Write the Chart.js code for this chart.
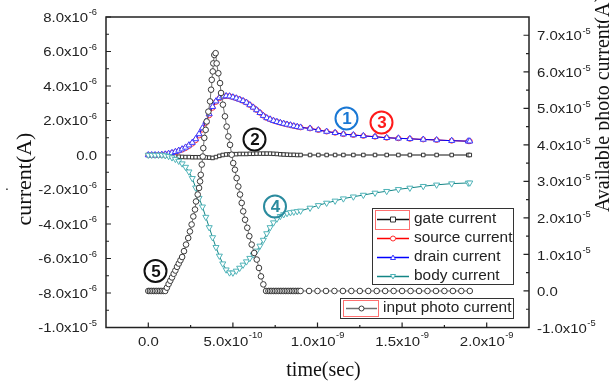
<!DOCTYPE html>
<html>
<head>
<meta charset="UTF-8">
<title>Photo current transient</title>
<style>
    body { margin: 0; background: #fff; overflow: hidden; }
    #chartBox { width: 609px; height: 383px; position: relative; }
</style>
<script src="https://cdn.jsdelivr.net/npm/chart.js"></script>
</head>
<body>
<div id="chartBox"><canvas id="photoChart"></canvas></div>

<script>
// time in units of 1e-10 s, device currents in 1e-6 A, photo current in 1e-5 A
const deviceTime = [0,0.2,0.4,0.6,0.8,1.0,1.2,1.4,1.6,1.8,2.0,2.2,2.4,2.6,2.8,3.0,3.2,3.4,3.6,3.8,
    4.0,4.2,4.4,4.6,4.8,5.0,5.2,5.4,5.6,5.8,6.0,6.2,6.4,6.6,6.8,7.0,7.2,7.4,7.6,7.8,
    8.0,8.2,8.4,8.6,8.8,9.0,9.56,10.05,10.54,11.04,11.53,12.12,12.71,13.4,14.09,14.78,
    15.46,16.25,17.04,17.93,18.91,19.0];

const gateCurrent = [0,0,0,0,0,-0.01,-0.03,-0.06,-0.08,-0.1,-0.11,-0.12,-0.12,-0.13,-0.13,
    -0.13,-0.13,-0.14,-0.15,-0.17,-0.12,-0.05,0,0.03,0.04,0.05,0.05,0.06,0.06,0.06,
    0.07,0.07,0.08,0.08,0.08,0.08,0.08,0.07,0.06,0.04,0.03,0.02,0.01,0.01,0,0,
    0,0,0,0,0,0,0,0,0,0,0,0,0,0,0,0];

const sourceCurrent = [0,0,0,0,0.02,0.04,0.07,0.12,0.17,0.24,0.31,0.4,0.52,0.66,0.86,
    1.13,1.47,1.86,2.3,2.74,3.08,3.29,3.39,3.42,3.41,3.35,3.29,3.22,3.14,3.04,
    2.9,2.76,2.61,2.45,2.28,2.15,2.07,1.99,1.93,1.87,1.82,1.77,1.73,1.68,1.64,1.6,
    1.54,1.45,1.36,1.29,1.21,1.16,1.11,1.06,1.0,0.97,0.94,0.9,0.87,0.83,0.8,0.8];

const drainCurrent = [0,0,0,0,0.02,0.04,0.08,0.13,0.19,0.26,0.34,0.44,0.57,0.72,0.93,
    1.22,1.56,1.93,2.38,2.8,3.12,3.31,3.4,3.42,3.41,3.35,3.29,3.22,3.14,3.04,
    2.9,2.76,2.61,2.45,2.28,2.15,2.07,1.99,1.93,1.87,1.82,1.77,1.73,1.68,1.64,1.6,
    1.54,1.45,1.36,1.29,1.21,1.16,1.11,1.06,1.0,0.97,0.94,0.9,0.87,0.83,0.8,0.8];

const bodyCurrent = [0,0,0,0,0,-0.03,-0.07,-0.15,-0.24,-0.35,-0.5,-0.7,-0.97,-1.35,-1.9,
    -2.5,-3.0,-3.6,-4.2,-4.78,-5.35,-5.85,-6.3,-6.65,-6.82,-6.83,-6.72,-6.55,-6.37,-6.18,
    -5.98,-5.78,-5.56,-5.27,-4.93,-4.55,-4.2,-3.92,-3.7,-3.55,-3.45,-3.38,-3.33,-3.3,-3.27,-3.24,
    -3.07,-2.92,-2.78,-2.66,-2.53,-2.42,-2.32,-2.2,-2.1,-1.99,-1.91,-1.81,-1.73,-1.66,-1.62,-1.61];

const photoTime = [0,0.1,0.2,0.3,0.4,0.5,0.6,0.7,0.8,0.9,1.0,1.1,1.2,1.3,1.4,1.5,1.6,1.7,1.8,1.9,2.0,
    2.11,2.23,2.36,2.46,2.56,2.66,2.76,2.82,2.92,3.0,3.06,3.1,3.16,3.22,3.25,3.31,3.39,3.45,
    3.55,3.65,3.71,3.75,3.81,3.84,3.9,3.98,
    4.04,4.14,4.24,4.3,4.41,4.53,4.63,4.73,4.83,4.93,5.02,5.12,5.22,5.32,5.42,5.52,5.61,5.72,
    5.85,5.97,6.11,6.26,6.41,6.54,6.66,6.8,6.96,
    7.1,7.2,7.3,7.4,7.5,7.6,7.7,7.8,7.9,8.0,8.1,8.2,8.3,8.4,8.5,8.6,8.7,8.8,8.9,9.0,
    9.5,10,10.5,11,11.5,12,12.5,13,13.5,14,14.5,15,15.5,16,16.5,17,17.5,18,18.5,19];

const photoCurrent = [0,0,0,0,0,0,0,0,0,0,0,0.09,0.19,0.28,0.37,0.47,0.56,0.66,0.75,0.84,0.93,
    1.09,1.27,1.45,1.63,1.82,2.04,2.23,2.45,2.64,2.82,3.0,3.18,3.46,3.68,3.91,4.19,4.41,4.64,
    4.91,5.19,5.51,5.78,6.01,6.23,6.46,6.51,
    6.23,5.96,5.69,5.42,5.1,4.78,4.5,4.23,4.0,3.73,3.5,3.32,3.09,2.86,2.64,2.41,2.18,1.95,
    1.73,1.5,1.27,1.04,0.86,0.63,0.4,0.18,0,
    0,0,0,0,0,0,0,0,0,0,0,0,0,0,0,0,0,0,0,0,
    0,0,0,0,0,0,0,0,0,0,0,0,0,0,0,0,0,0,0,0];

// tick labels
const xTicks = [0, 5, 10, 15, 20];
const xTickText = ['0.0', '5.0x10', '1.0x10', '1.5x10', '2.0x10'];
const xTickExp = ['', '-10', '-9', '-9', '-9'];

const yLeftTicks = [8, 6, 4, 2, 0, -2, -4, -6, -8, -10];
const yLeftText = ['8.0x10', '6.0x10', '4.0x10', '2.0x10', '0.0', '-2.0x10', '-4.0x10', '-6.0x10', '-8.0x10', '-1.0x10'];
const yLeftExp = ['-6', '-6', '-6', '-6', '', '-6', '-6', '-6', '-6', '-5'];

const yRightTicks = [7, 6, 5, 4, 3, 2, 1, 0, -1];
const yRightText = ['7.0x10', '6.0x10', '5.0x10', '4.0x10', '3.0x10', '2.0x10', '1.0x10', '0.0', '-1.0x10'];
const yRightExp = ['-5', '-5', '-5', '-5', '-5', '-5', '-5', '', '-5'];

const seriesNames = ['gate current', 'source current', 'drain current', 'body current'];
const photoName = 'input photo current';

const SANS = '"Liberation Sans", Arial, sans-serif';
const SERIF = '"Liberation Serif", "Times New Roman", serif';

function pts(xs, ys) {
    return xs.map((x, i) => ({ x: x, y: ys[i] }));
}

function drawText(ctx, s, x, y, size, family, align, sx, weight) {
    ctx.save();
    ctx.font = (weight || 'normal') + ' ' + size + 'px ' + family;
    ctx.textBaseline = 'middle';
    ctx.textAlign = 'left';
    const w = ctx.measureText(s).width * sx;
    let x0 = x;
    if (align === 'right') x0 = x - w;
    if (align === 'center') x0 = x - w / 2;
    ctx.translate(x0, y);
    ctx.scale(sx, 1);
    ctx.fillText(s, 0, 0);
    ctx.restore();
    return w;
}

function textWidth(ctx, s, size, sx) {
    ctx.save();
    ctx.font = size + 'px ' + SANS;
    const w = ctx.measureText(s).width * sx;
    ctx.restore();
    return w;
}

// mantissa plus raised exponent
function sciLabel(ctx, mant, exp, x, y, align, supRise) {
    const wm = textWidth(ctx, mant, 13, 1.15);
    const we = exp ? textWidth(ctx, exp, 8.5, 1.1) + 0.5 : 0;
    const total = wm + we;
    let x0 = x;
    if (align === 'right') x0 = x - total;
    if (align === 'center') x0 = x - total / 2;
    drawText(ctx, mant, x0, y, 13, SANS, 'left', 1.15);
    if (exp) drawText(ctx, exp, x0 + wm + 0.5, y - supRise, 8.5, SANS, 'left', 1.1);
}

function marker(ctx, style, x, y, r, color) {
    ctx.save();
    ctx.strokeStyle = color;
    ctx.fillStyle = '#fff';
    ctx.lineWidth = 1;
    ctx.beginPath();
    if (style === 'rect') {
        ctx.rect(x - r, y - r, 2 * r, 2 * r);
    } else if (style === 'circle') {
        ctx.arc(x, y, r, 0, Math.PI * 2);
    } else if (style === 'up') {
        ctx.moveTo(x, y - r); ctx.lineTo(x + r, y + r * 0.8); ctx.lineTo(x - r, y + r * 0.8); ctx.closePath();
    } else {
        ctx.moveTo(x, y + r); ctx.lineTo(x + r, y - r * 0.8); ctx.lineTo(x - r, y - r * 0.8); ctx.closePath();
    }
    ctx.fill();
    ctx.stroke();
    ctx.restore();
}

function circled(ctx, label, x, y, color) {
    ctx.save();
    ctx.strokeStyle = color;
    ctx.lineWidth = 2;
    ctx.beginPath();
    ctx.arc(x, y, 11, 0, Math.PI * 2);
    ctx.stroke();
    ctx.fillStyle = color;
    drawText(ctx, label, x + 0.5, y + 1, 17, SANS, 'center', 1.0, 'bold');
    ctx.restore();
}

const framePlugin = {
    id: 'frame',
    afterDraw(chart) {
        const ctx = chart.ctx;
        const a = chart.chartArea;
        const sx = chart.scales.x, yl = chart.scales.yL, yr = chart.scales.yR;
        ctx.save();

        // frame
        ctx.strokeStyle = '#222';
        ctx.lineWidth = 1.5;
        ctx.strokeRect(a.left, a.top, a.right - a.left, a.bottom - a.top);

        // ticks, inward
        ctx.lineWidth = 1.2;
        ctx.beginPath();
        for (let v = -10; v <= 8; v += 1) {
            const y = yl.getPixelForValue(v);
            const len = (v % 2 === 0) ? 5 : 3;
            ctx.moveTo(a.left, y); ctx.lineTo(a.left + len, y);
        }
        for (let v = -1; v <= 7.01; v += 0.5) {
            const y = yr.getPixelForValue(v);
            const len = Number.isInteger(v) ? 5.5 : 3;
            ctx.moveTo(a.right, y); ctx.lineTo(a.right - len, y);
        }
        for (let v = 0; v <= 20.01; v += 2.5) {
            const x = sx.getPixelForValue(v);
            const len = (v % 5 === 0) ? 5 : 2.5;
            ctx.moveTo(x, a.bottom); ctx.lineTo(x, a.bottom - len);
        }
        ctx.stroke();

        // tick labels
        ctx.fillStyle = '#222';
        yLeftTicks.forEach((v, i) => {
            sciLabel(ctx, yLeftText[i], yLeftExp[i], a.left - 9, yl.getPixelForValue(v) + 1, 'right', 5);
        });
        yRightTicks.forEach((v, i) => {
            sciLabel(ctx, yRightText[i], yRightExp[i], a.right + 8, yr.getPixelForValue(v) + 1.5, 'left', 5);
        });
        xTicks.forEach((v, i) => {
            sciLabel(ctx, xTickText[i], xTickExp[i], sx.getPixelForValue(v), a.bottom + 15, 'center', 7);
        });

        // axis titles
        ctx.fillStyle = '#111';
        drawText(ctx, 'time(sec)', (a.left + a.right) / 2 + 6, 371, 20, SERIF, 'center', 1.0);
        ctx.save();
        ctx.translate(25, 179);
        ctx.rotate(-Math.PI / 2);
        drawText(ctx, 'current(A)', 0, 0, 22, SERIF, 'center', 1.0);
        ctx.restore();
        ctx.save();
        ctx.translate(603.5, 104);
        ctx.rotate(-Math.PI / 2);
        drawText(ctx, 'Available photo current(A)', 0, 0, 20, SERIF, 'center', 1.0);
        ctx.restore();
        drawText(ctx, '.', 5, 186, 14, SANS, 'left', 1.0);

        // legend for device currents
        const sty = chart.data.datasets;
        ctx.strokeStyle = '#333';
        ctx.lineWidth = 1;
        ctx.strokeRect(372.5, 208.5, 141, 76);
        ctx.strokeStyle = '#ff7070';
        ctx.strokeRect(375.5, 210.5, 34, 19);
        const rows = [219.5, 238.5, 257.5, 276.5];
        const kinds = ['rect', 'circle', 'up', 'down'];
        seriesNames.forEach((name, i) => {
            const ds = sty[i];
            ctx.strokeStyle = ds.borderColor;
            ctx.lineWidth = 1.5;
            ctx.beginPath();
            ctx.moveTo(377, rows[i]); ctx.lineTo(409, rows[i]);
            ctx.stroke();
            marker(ctx, kinds[i], 393, rows[i], 2.5, ds.pointBorderColor);
            ctx.fillStyle = '#222';
            drawText(ctx, name, 414, rows[i], 14, SANS, 'left', 1.1);
        });

        // legend for photo current
        ctx.strokeStyle = '#333';
        ctx.lineWidth = 1;
        ctx.strokeRect(340.5, 298.5, 173, 20);
        ctx.strokeStyle = '#ff7070';
        ctx.strokeRect(343.5, 300.5, 35, 16);
        ctx.strokeStyle = sty[4].borderColor;
        ctx.lineWidth = 1.5;
        ctx.beginPath();
        ctx.moveTo(346, 308.5); ctx.lineTo(377, 308.5);
        ctx.stroke();
        marker(ctx, 'circle', 361.5, 308.5, 2.5, sty[4].pointBorderColor);
        ctx.fillStyle = '#222';
        drawText(ctx, photoName, 383, 308.5, 14, SANS, 'left', 1.1);

        // circled labels
        circled(ctx, '1', 346.5, 118.5, '#1a78d4');
        circled(ctx, '3', 381.5, 122.5, '#ff1a1a');
        circled(ctx, '2', 254.5, 139.5, '#111');
        circled(ctx, '4', 275, 206.5, '#2b8b9e');
        circled(ctx, '5', 155.5, 271, '#111');

        ctx.restore();
    }
};

const ctx = document.getElementById('photoChart').getContext('2d');
new Chart(ctx, {
    type: 'line',
    data: {
        datasets: [
            {
                label: seriesNames[0], data: pts(deviceTime, gateCurrent), yAxisID: 'yL',
                borderColor: '#111', borderWidth: 1, pointStyle: 'rect', pointRadius: 2.5,
                pointBorderColor: '#333', pointBackgroundColor: '#fff', pointBorderWidth: 1, order: 4
            },
            {
                label: seriesNames[1], data: pts(deviceTime, sourceCurrent), yAxisID: 'yL',
                borderColor: '#ff0000', borderWidth: 1, pointStyle: 'circle', pointRadius: 2.5,
                pointBorderColor: '#ff3030', pointBackgroundColor: '#fff', pointBorderWidth: 1, order: 3
            },
            {
                label: seriesNames[2], data: pts(deviceTime, drainCurrent), yAxisID: 'yL',
                borderColor: '#0000ff', borderWidth: 1, pointStyle: 'triangle', pointRadius: 3.5,
                pointBorderColor: '#3a3aff', pointBackgroundColor: '#fff', pointBorderWidth: 1, order: 2
            },
            {
                label: seriesNames[3], data: pts(deviceTime, bodyCurrent), yAxisID: 'yL',
                borderColor: '#138585', borderWidth: 1, pointStyle: 'triangle', pointRotation: 180,
                pointRadius: 3.5, pointBorderColor: '#4fb3b8', pointBackgroundColor: '#fff',
                pointBorderWidth: 1, order: 1
            },
            {
                label: photoName, data: pts(photoTime, photoCurrent), yAxisID: 'yR',
                borderColor: '#707070', borderWidth: 1, pointStyle: 'circle', pointRadius: 2.8,
                pointBorderColor: '#3a3a3a', pointBackgroundColor: '#fff', pointBorderWidth: 1, order: 0
            }
        ]
    },
    options: {
        responsive: true,
        maintainAspectRatio: false,
        animation: false,
        devicePixelRatio: 1,
        layout: { padding: { left: 106, right: 80, top: 17, bottom: 55.5 } },
        elements: { line: { tension: 0 } },
        scales: {
            x: { type: 'linear', min: -2.5, max: 22.5, display: false },
            yL: { type: 'linear', position: 'left', min: -10, max: 8, display: false },
            yR: { type: 'linear', position: 'right', min: -1, max: 7.5, display: false }
        },
        plugins: {
            legend: { display: false },
            tooltip: { enabled: false }
        }
    },
    plugins: [framePlugin]
});
</script>
</body>
</html>
